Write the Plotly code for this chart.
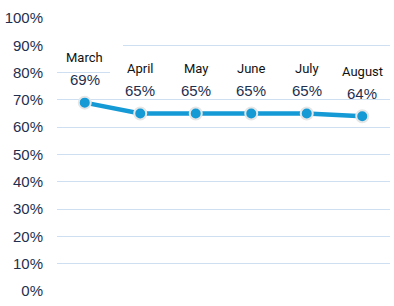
import plotly.graph_objects as go

months = ["March", "April", "May", "June", "July", "August"]
values = [0.69, 0.65, 0.65, 0.65, 0.65, 0.64]
tick_vals = [i / 10 for i in range(11)]
tick_text = [f"{i*10}%" for i in range(11)]

fig = go.Figure()
fig.add_trace(go.Scatter(
    x=months, y=values, mode="lines+markers",
    line=dict(color="#159ad6", width=4.5),
    marker=dict(size=12, color="#159ad6", line=dict(color="#e6e6e6", width=2)),
    cliponaxis=False, hoverinfo="skip",
))

for m, v in zip(months, values):
    fig.add_annotation(x=m, y=v, xref="x", yref="y", text=m, showarrow=False,
                       yanchor="middle", yshift=45,
                       font=dict(family="Roboto", size=13, color="#111111"))
    fig.add_annotation(x=m, y=v, xref="x", yref="y", text=f"{round(v*100)}%", showarrow=False,
                       yanchor="middle", yshift=23,
                       font=dict(family="Liberation Sans", size=15, color="#1e2f4f"))

# white label boxes masking gridlines
fig.add_shape(type="rect", xref="x", yref="y", x0=-0.5, x1=0.69, y0=0.86, y1=0.94,
              fillcolor="white", line=dict(width=0), layer="between")
fig.add_shape(type="rect", xref="x", yref="y", x0=0.455, x1=5.6, y0=0.77, y1=0.83,
              fillcolor="white", line=dict(width=0), layer="between")

fig.update_layout(
    width=394, height=306,
    margin=dict(l=57, r=4, t=18, b=15),
    paper_bgcolor="white", plot_bgcolor="white",
    showlegend=False,
    xaxis=dict(showticklabels=False, showgrid=False, zeroline=False, showline=False,
               range=[-0.5, 5.5]),
    yaxis=dict(range=[0, 1], tickvals=tick_vals, ticktext=tick_text,
               showgrid=True, gridcolor="#cfdff2", gridwidth=1,
               zeroline=False, showline=False, ticks="",
               tickfont=dict(family="Liberation Sans", size=15, color="#1e2f4f"),
               ticklabelstandoff=13),
)

fig.write_html("out.html")
